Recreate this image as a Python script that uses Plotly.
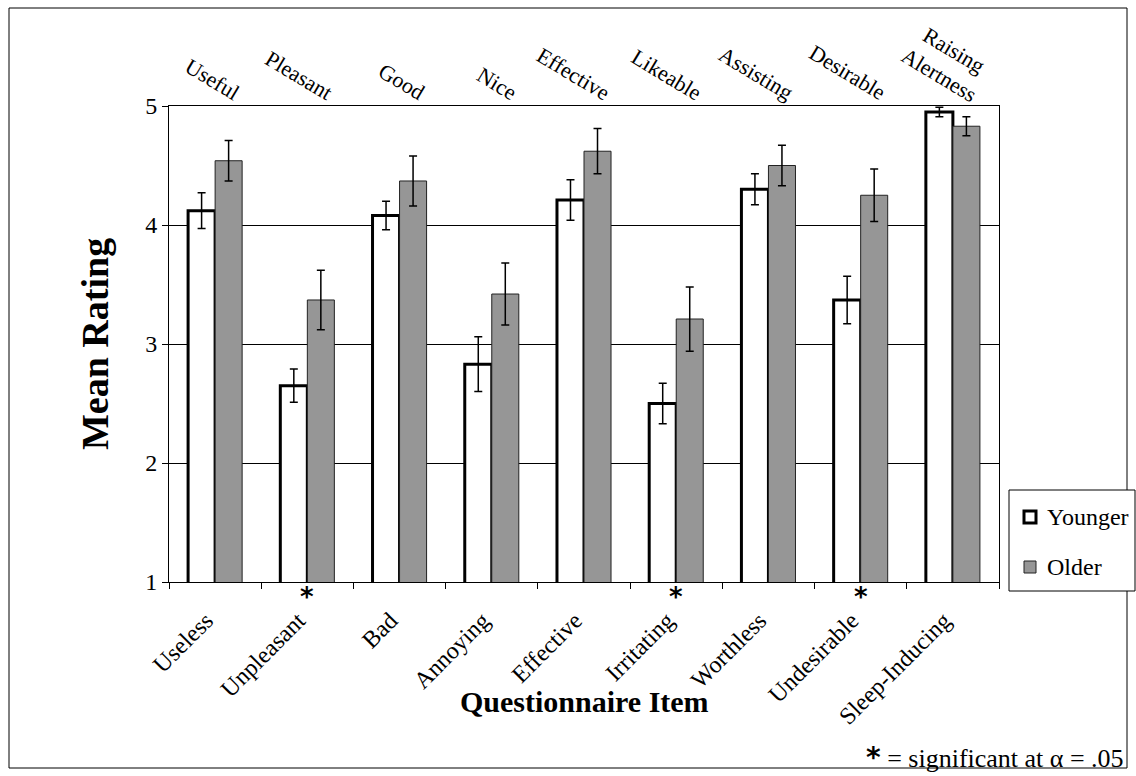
import plotly.graph_objects as go

# ---- data ----
items_bottom = ["Useless", "Unpleasant", "Bad", "Annoying", "Effective",
                "Irritating", "Worthless", "Undesirable", "Sleep-Inducing"]
items_top = ["Useful", "Pleasant", "Good", "Nice", "Effective",
             "Likeable", "Assisting", "Desirable", "Raising<br>Alertness"]
younger = [4.12, 2.65, 4.08, 2.83, 4.21, 2.50, 4.30, 3.37, 4.95]
younger_err = [0.15, 0.14, 0.12, 0.23, 0.17, 0.17, 0.13, 0.20, 0.04]
older = [4.54, 3.37, 4.37, 3.42, 4.62, 3.21, 4.50, 4.25, 4.83]
older_err = [0.17, 0.25, 0.21, 0.26, 0.19, 0.27, 0.17, 0.22, 0.08]
significant = ["Unpleasant", "Irritating", "Undesirable"]
y_ticks = [1, 2, 3, 4, 5]

FONT = "Liberation Serif, Times New Roman, serif"
FS = 24
W, H = 1136, 776
L, R, T, B = 169, 137, 106, 194
PW, PH = W - L - R, H - T - B


def px(xp):
    return (xp - L) / PW


def py(yp):
    return 1 - (yp - T) / PH


fig = go.Figure()
fig.add_trace(go.Bar(
    name="Younger", x=items_bottom, y=younger,
    marker=dict(color="white", line=dict(color="black", width=3)),
    error_y=dict(type="data", array=younger_err, color="black", thickness=1.5, width=4),
))
fig.add_trace(go.Bar(
    name="Older", x=items_bottom, y=older,
    marker=dict(color="#969696", line=dict(color="#222222", width=1)),
    error_y=dict(type="data", array=older_err, color="black", thickness=1.5, width=4),
))

annotations = []
# top labels (positive-anchor items)
for cat, lab in zip(items_bottom, items_top):
    multi = "<br>" in lab
    annotations.append(dict(
        x=cat, xref="x", y=1, yref="paper", text=lab, showarrow=False,
        textangle=31, xanchor="right", yanchor="bottom",
        xshift=46 if multi else 32, yshift=-4 if multi else -2,
        font=dict(family=FONT, size=22, color="black"),
    ))
# significance asterisks
for cat in significant:
    annotations.append(dict(
        x=cat, xref="x", y=py(597), yref="paper", text="<b>*</b>", showarrow=False,
        xanchor="center", yanchor="middle",
        font=dict(family="DejaVu Sans, Arial, sans-serif", size=26, color="black"),
    ))
# axis titles
annotations.append(dict(
    x=px(95), y=0.5, xref="paper", yref="paper", text="<b>Mean Rating</b>",
    textangle=-90, showarrow=False, xanchor="center", yanchor="middle",
    font=dict(family=FONT, size=38, color="black"),
))
annotations.append(dict(
    x=0.5, y=py(701), xref="paper", yref="paper", text="<b>Questionnaire Item</b>",
    showarrow=False, xanchor="center", yanchor="middle",
    font=dict(family=FONT, size=30, color="black"),
))
# footnote
annotations.append(dict(
    x=px(1126), y=py(757), xref="paper", yref="paper",
    text="<span style='font-family:DejaVu Sans; font-size:28px'><b>*</b></span> = significant at \u03b1 = .05",
    showarrow=False, xanchor="right", yanchor="middle",
    font=dict(family=FONT, size=26, color="black"),
))
# legend texts
annotations.append(dict(
    x=px(1045), y=py(517), xref="paper", yref="paper", text="Younger",
    showarrow=False, xanchor="left", yanchor="middle",
    font=dict(family=FONT, size=FS, color="black"),
))
annotations.append(dict(
    x=px(1045), y=py(567), xref="paper", yref="paper", text="Older",
    showarrow=False, xanchor="left", yanchor="middle",
    font=dict(family=FONT, size=FS, color="black"),
))

shapes = [
    # outer frame
    dict(type="rect", xref="paper", yref="paper",
         x0=px(9), x1=px(1127), y0=py(8), y1=py(768),
         line=dict(color="black", width=1), fillcolor="rgba(0,0,0,0)", layer="below"),
    # legend box
    dict(type="rect", xref="paper", yref="paper",
         x0=px(1009), x1=px(1135), y0=py(490), y1=py(591),
         line=dict(color="black", width=1), fillcolor="white"),
    # legend symbols
    dict(type="rect", xref="paper", yref="paper",
         x0=px(1024), x1=px(1036), y0=py(511), y1=py(523),
         line=dict(color="black", width=3), fillcolor="white"),
    dict(type="rect", xref="paper", yref="paper",
         x0=px(1024), x1=px(1036), y0=py(561), y1=py(573),
         line=dict(color="#222222", width=1), fillcolor="#969696"),
]

fig.update_layout(
    width=W, height=H,
    margin=dict(l=L, r=R, t=T, b=B),
    paper_bgcolor="white", plot_bgcolor="white",
    barmode="group", bargap=0.414, bargroupgap=0,
    showlegend=False,
    font=dict(family=FONT, size=FS, color="black"),
    annotations=annotations,
    shapes=shapes,
    xaxis=dict(
        type="category", categoryorder="array", categoryarray=items_bottom,
        showline=True, linecolor="black", linewidth=1, mirror=True,
        ticks="outside", ticklen=6, tickcolor="black", tickson="boundaries",
        tickangle=-45, ticklabelstandoff=14, ticklabelshift=-9,
        tickfont=dict(family=FONT, size=FS, color="black"),
        showgrid=False,
    ),
    yaxis=dict(
        range=[1, 5], tickvals=y_ticks, ticktext=[str(v) for v in y_ticks],
        showline=True, linecolor="black", linewidth=1, mirror=True,
        ticks="outside", ticklen=6, tickcolor="black",
        showgrid=True, gridcolor="black", gridwidth=1,
        tickfont=dict(family=FONT, size=FS, color="black"),
        zeroline=False,
    ),
)

fig.write_html(
    "out.html",
    config={"displayModeBar": False},
    post_script="document.body.style.margin='0';document.body.style.overflow='hidden';",
)
